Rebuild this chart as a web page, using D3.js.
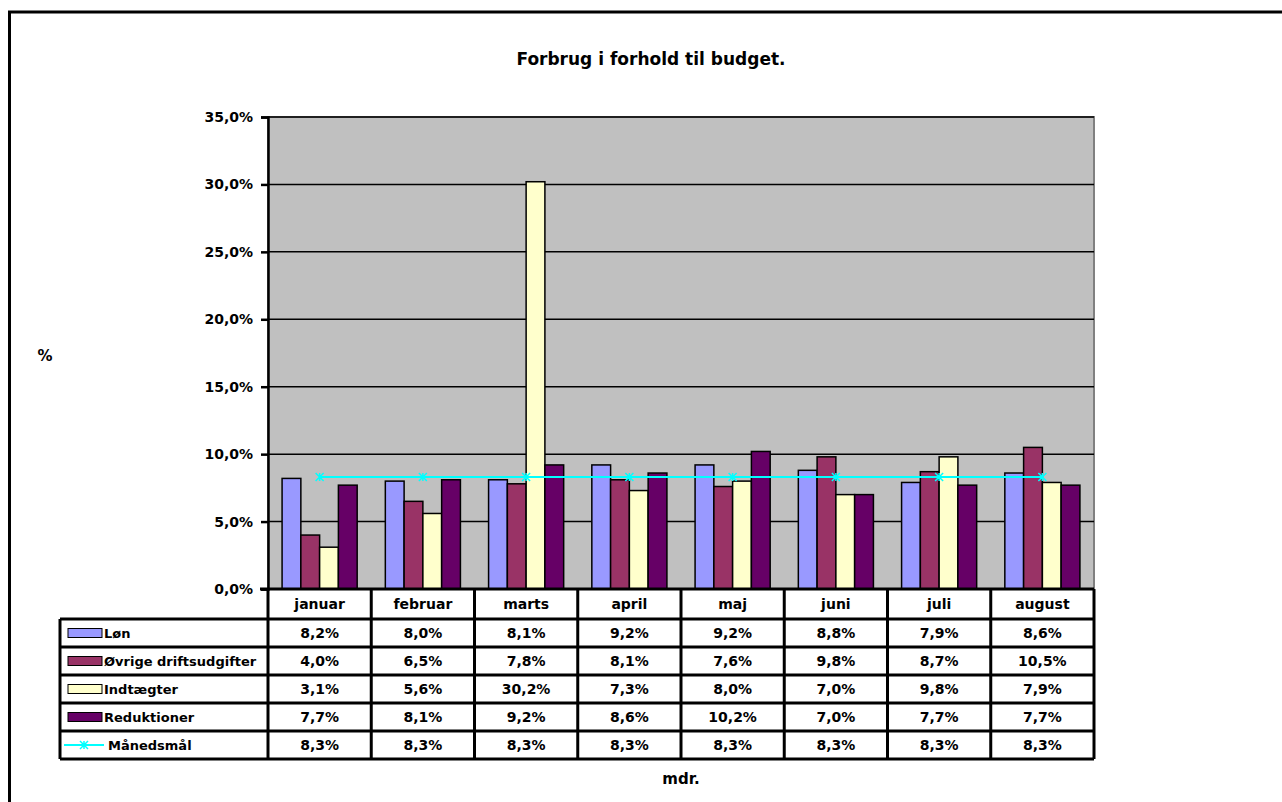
<!DOCTYPE html>
<html><head><meta charset="utf-8">
<script src="https://cdn.jsdelivr.net/npm/d3@7"></script>
<style>body{margin:0;background:#fff}svg{display:block;font-family:"DejaVu Sans",sans-serif}</style>
</head><body><svg id="c" width="1282" height="802"></svg>
<script>
const months = ["januar","februar","marts","april","maj","juni","juli","august"];
const seriesNames = ["Løn","Øvrige driftsudgifter","Indtægter","Reduktioner"];
const lon = [8.2, 8.0, 8.1, 9.2, 9.2, 8.8, 7.9, 8.6];
const ovrige = [4.0, 6.5, 7.8, 8.1, 7.6, 9.8, 8.7, 10.5];
const indtaegter = [3.1, 5.6, 30.2, 7.3, 8.0, 7.0, 9.8, 7.9];
const reduktioner = [7.7, 8.1, 9.2, 8.6, 10.2, 7.0, 7.7, 7.7];
const maanedsmaal = [8.3, 8.3, 8.3, 8.3, 8.3, 8.3, 8.3, 8.3];
const lineName = "Månedsmål";
const yTicks = [0,5,10,15,20,25,30,35];
const colors = ["#9999FF","#993366","#FFFFCC","#660066"];
const lineColor = "#00FFFF";

const svg = d3.select("#c");
const fmt = v => d3.format(".1f")(v).replace(".", ",") + "%";

// outer border
svg.append("rect").attr("x",9.5).attr("y",12).attr("width",1400).attr("height",1000)
  .attr("fill","none").attr("stroke","#000").attr("stroke-width",3);

const L = 268, R = 1094, T = 117, B = 589;
const x = d3.scaleBand().domain(months).range([L,R]);
const y = d3.scaleLinear().domain([0,35]).range([B,T]);
const inner = d3.scaleBand().domain(seriesNames).range([0, x.bandwidth()]).paddingOuter(0.75);

// plot background
svg.append("rect").attr("x",L).attr("y",T).attr("width",R-L).attr("height",B-T)
  .attr("fill","#C0C0C0").attr("stroke","#808080").attr("stroke-width",2);

// gridlines
svg.append("g").selectAll("line").data(yTicks.filter(t=>t>0)).join("line")
  .attr("x1",L).attr("x2",R).attr("y1",d=>y(d)).attr("y2",d=>y(d))
  .attr("stroke","#000").attr("stroke-width",1.5);

// y axis
const yAxis = d3.axisLeft(y).tickValues(yTicks).tickSize(7).tickPadding(8)
  .tickFormat(d => d3.format(".1f")(d).replace(".", ",") + "%");
const ga = svg.append("g").attr("transform",`translate(${L},0)`).call(yAxis);
ga.select(".domain").attr("stroke","#000").attr("stroke-width",2.5);
ga.selectAll(".tick line").attr("stroke","#000").attr("stroke-width",2.5);
ga.selectAll("text").attr("font-size",14).attr("font-weight","bold").attr("fill","#000")
  .attr("font-family","DejaVu Sans");

// bars
const allSeries = [lon, ovrige, indtaegter, reduktioner];
allSeries.forEach((vals, si) => {
  svg.append("g").selectAll("rect").data(vals).join("rect")
    .attr("x",(d,i)=>x(months[i]) + inner(seriesNames[si]))
    .attr("width",inner.bandwidth())
    .attr("y",d=>y(d)).attr("height",d=>B-y(d))
    .attr("fill",colors[si]).attr("stroke","#000").attr("stroke-width",1.5);
});

// line
const lineGen = d3.line().x((d,i)=>x(months[i])+x.bandwidth()/2).y(d=>y(d));
svg.append("path").datum(maanedsmaal).attr("d",lineGen)
  .attr("fill","none").attr("stroke",lineColor).attr("stroke-width",2);
const mk = svg.append("g").selectAll("g").data(maanedsmaal).join("g")
  .attr("transform",(d,i)=>`translate(${x(months[i])+x.bandwidth()/2},${y(d)})`);
mk.append("path").attr("d","M-4,-4L4,4M-4,4L4,-4M0,-4V4").attr("stroke",lineColor).attr("stroke-width",1.5);

// axis bottom line
svg.append("line").attr("x1",L-8).attr("x2",R).attr("y1",B).attr("y2",B).attr("stroke","#000").attr("stroke-width",3);

// data table
const rowTop = 619, rowH = 28, hdrTop = 589;
const hdr = svg.append("g");
months.forEach(m => {
  hdr.append("text").attr("x",x(m)+x.bandwidth()/2).attr("y",hdrTop+20)
    .attr("text-anchor","middle").attr("font-size",14).attr("font-weight","bold").text(m);
});
const vx = months.map(m=>x(m)).concat([R]);
svg.append("g").selectAll("line").data(vx).join("line")
  .attr("x1",d=>d).attr("x2",d=>d).attr("y1",hdrTop).attr("y2",rowTop+rowH*5)
  .attr("stroke","#000").attr("stroke-width",3);
const legL = 60;
const rowNames = seriesNames.concat([lineName]);
const hLines = d3.range(6).map(i => rowTop + i*rowH);
svg.append("g").selectAll("line").data(hLines).join("line")
  .attr("x1",legL).attr("x2",R).attr("y1",d=>d).attr("y2",d=>d)
  .attr("stroke","#000").attr("stroke-width",3);
svg.append("line").attr("x1",legL).attr("x2",legL).attr("y1",rowTop).attr("y2",rowTop+rowH*5)
  .attr("stroke","#000").attr("stroke-width",3);

const rowVals = [lon, ovrige, indtaegter, reduktioner, maanedsmaal];
rowNames.forEach((name, ri) => {
  const cy = rowTop + ri*rowH + rowH/2;
  if (ri < 4) {
    svg.append("rect").attr("x",68).attr("y",cy-4.5).attr("width",34).attr("height",9)
      .attr("fill",colors[ri]).attr("stroke","#000").attr("stroke-width",1);
  } else {
    svg.append("line").attr("x1",64).attr("x2",104).attr("y1",cy).attr("y2",cy)
      .attr("stroke",lineColor).attr("stroke-width",2);
    svg.append("path").attr("transform",`translate(84,${cy})`)
      .attr("d","M-4,-4L4,4M-4,4L4,-4M0,-4V4").attr("stroke",lineColor).attr("stroke-width",1.5);
  }
  svg.append("text").attr("x",ri<4?104:108).attr("y",cy+5).attr("font-size",13).attr("font-weight","bold").text(name);
  svg.append("g").selectAll("text").data(rowVals[ri]).join("text")
    .attr("x",(d,i)=>x(months[i])+x.bandwidth()/2).attr("y",cy+5)
    .attr("text-anchor","middle").attr("font-size",14).attr("font-weight","bold").text(d=>fmt(d));
});

// titles
svg.append("text").attr("x",651).attr("y",65).attr("text-anchor","middle")
  .attr("font-size",17).attr("font-weight","bold").text("Forbrug i forhold til budget.");
svg.append("text").attr("x",45).attr("y",361).attr("text-anchor","middle")
  .attr("font-size",15).attr("font-weight","bold").text("%");
svg.append("text").attr("x",681).attr("y",784).attr("text-anchor","middle")
  .attr("font-size",15).attr("font-weight","bold").text("mdr.");
</script></body></html>
